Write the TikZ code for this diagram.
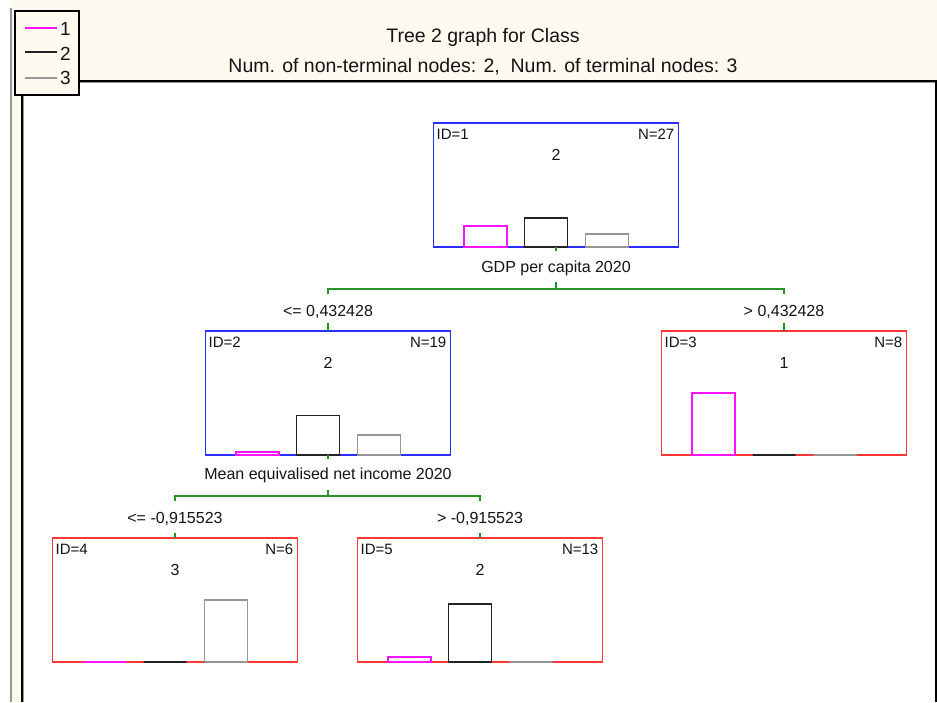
\documentclass[tikz,border=0pt]{standalone}
\usepackage{fontspec}
\setmainfont{Liberation Sans}
\usetikzlibrary{calc}

\definecolor{cream}{RGB}{255,250,240}
\definecolor{textdark}{RGB}{20,20,20}
\definecolor{splitgreen}{RGB}{40,145,40}
\definecolor{nodeblue}{RGB}{45,45,255}
\definecolor{nodered}{RGB}{255,55,55}
\definecolor{classone}{RGB}{255,20,255}
\definecolor{classtwo}{RGB}{35,35,35}
\definecolor{classthree}{RGB}{150,150,150}

\tikzset{
  treebox/.style={draw=#1, line width=1.9pt, fill=white,
    minimum width=245pt, minimum height=124pt, inner sep=0pt, outer sep=0pt},
  conn/.style={draw=splitgreen, line width=1.6pt},
  bar/.style={draw=#1, line width=1.7pt},
  idlabel/.style={font=\fontsize{15}{15}\selectfont, text=textdark, inner sep=0pt},
  classlabel/.style={font=\fontsize{16}{16}\selectfont, text=textdark, inner sep=0pt},
  splitlabel/.style={font=\fontsize{16}{16}\selectfont, text=textdark, inner sep=0pt, anchor=base},
  titlelabel/.style={font=\fontsize{19.5}{20}\selectfont, text=textdark, inner sep=0pt, anchor=base},
  legendlabel/.style={font=\fontsize{19}{19}\selectfont, text=textdark, inner sep=0pt, anchor=base west},
  legendline/.style={draw=#1, line width=1.5pt},
}

% one tree node: name, centre, border colour, id, case count, predicted class
\newcommand\treenode[6]{%
  \node[treebox=#3] (#1) at (#2) {};
  \node[idlabel, anchor=base west] (#1id) at ($(#1.north west)+(3,16)$) {ID=#4};
  \node[idlabel, anchor=base east] (#1n) at ($(#1.north east)+(-4,16)$) {N=#5};
  \node[classlabel, anchor=base] (#1cls) at ($(#1.north)+(0,37.5)$) {#6};
}

% class histogram inside a node: name, bar heights for classes 1, 2, 3
\newcommand\classbars[4]{%
  \draw[bar=classone] ($(#1.south west)+(30.5,0)$) rectangle ++(43,-#2);
  \draw[bar=classtwo] ($(#1.south west)+(91,0)$) rectangle ++(43,-#3);
  \draw[bar=classthree] ($(#1.south west)+(152,0)$) rectangle ++(43,-#4);
}

\begin{document}
\begin{tikzpicture}[x=1pt, y=-1pt]
  \useasboundingbox (0,0) rectangle (937,702);

  % window background and plot area
  \fill[white] (0,0) rectangle (937,702);
  \fill[cream] (11,0) rectangle (937,702);
  \fill[white] (22,81) rectangle (936,702);
  \draw[classthree, line width=1.2pt] (11,8) -- (11,702);
  \draw[classthree, line width=0.8pt] (23.5,702) -- (23.5,82.5) -- (934.5,82.5);
  \draw[black, line width=1.5pt] (22,702) -- (22,81) -- (936,81) -- (936,702);

  % titles
  \node[titlelabel] (title) at (483,42) {Tree 2 graph for Class};
  \node[titlelabel] (subtitle) at (483,72)
    {Num. of non-terminal nodes: 2,\ \ Num. of terminal nodes: 3};

  % legend
  \node[draw=black, line width=1.2pt, fill=cream, minimum width=64pt,
        minimum height=84pt, inner sep=0pt] (legend) at (47,53) {};
  \draw[legendline=classone] (25,28) -- (57,28);
  \draw[legendline=classtwo] (25,52) -- (57,52);
  \draw[legendline=classthree] (25,78) -- (57,78);
  \node[legendlabel] (leg1) at (60,35) {1};
  \node[legendlabel] (leg2) at (60,60) {2};
  \node[legendlabel] (leg3) at (60,84) {3};

  % tree nodes
  \treenode{n1}{556,185}{nodeblue}{1}{27}{2}
  \treenode{n2}{328,393}{nodeblue}{2}{19}{2}
  \treenode{n3}{784,393}{nodered}{3}{8}{1}
  \treenode{n4}{175,600}{nodered}{4}{6}{3}
  \treenode{n5}{480,600}{nodered}{5}{13}{2}

  \classbars{n1}{21}{29}{13}
  \classbars{n2}{3}{39.5}{20}
  \classbars{n3}{62}{0}{0}
  \classbars{n4}{0}{0}{62}
  \classbars{n5}{5}{58}{0}

  % first split
  \coordinate (j1) at ($(n1.south)+(0,42)$);
  \draw[conn] (n1.south) -- ++(0,4);
  \node[splitlabel] (s1) at ($(n1.south)+(0,25)$) {GDP per capita 2020};
  \draw[conn] (j1) -- ++(0,-7.5);
  \draw[conn] ($(n2.north |- j1)+(0,5)$) -- (n2.north |- j1) -- (n3.north |- j1) -- ++(0,5);
  \node[splitlabel] (c2) at ($(n2.north)+(0,-15)$) {<= 0,432428};
  \node[splitlabel] (c3) at ($(n3.north)+(0,-15)$) {> 0,432428};
  \draw[conn] (n2.north) -- ++(0,-8);
  \draw[conn] (n3.north) -- ++(0,-8);

  % second split
  \coordinate (j2) at ($(n2.south)+(0,41)$);
  \draw[conn] (n2.south) -- ++(0,3.5);
  \node[splitlabel] (s2) at ($(n2.south)+(0,24.5)$) {Mean equivalised net income 2020};
  \draw[conn] (j2) -- ++(0,-6.5);
  \draw[conn] ($(n4.north |- j2)+(0,5)$) -- (n4.north |- j2) -- (n5.north |- j2) -- ++(0,5);
  \node[splitlabel] (c4) at ($(n4.north)+(0,-15)$) {<= -0,915523};
  \node[splitlabel] (c5) at ($(n5.north)+(0,-15)$) {> -0,915523};
  \draw[conn] (n4.north) -- ++(0,-5.5);
  \draw[conn] (n5.north) -- ++(0,-5.5);
\end{tikzpicture}
\end{document}
